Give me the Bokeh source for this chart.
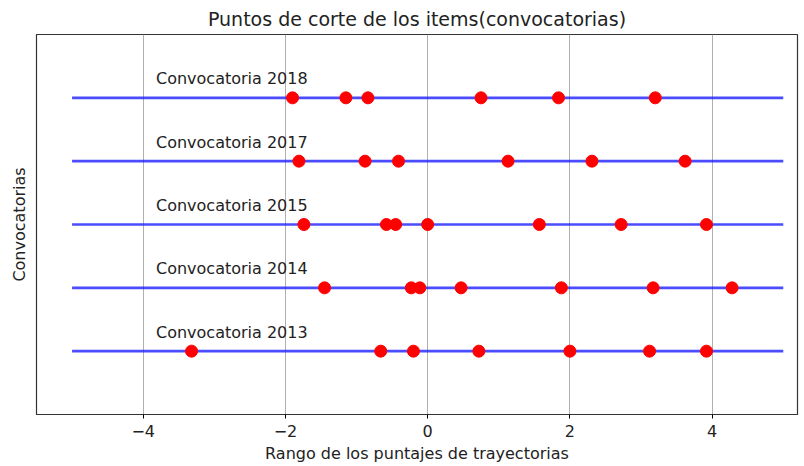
from bokeh.plotting import figure
from bokeh.models import FixedTicker, Range1d, ColumnDataSource
from bokeh.core.properties import value
from bokeh.embed import file_html
from bokeh.resources import INLINE

# ---- data ----
convocatorias = ["Convocatoria 2013", "Convocatoria 2014", "Convocatoria 2015",
                 "Convocatoria 2017", "Convocatoria 2018"]
puntos_2013 = [-3.32, -0.66, -0.20, 0.72, 2.00, 3.12, 3.92]
puntos_2014 = [-1.45, -0.23, -0.11, 0.47, 1.88, 3.17, 4.28]
puntos_2015 = [-1.74, -0.58, -0.45, 0.00, 1.57, 2.72, 3.92]
puntos_2017 = [-1.81, -0.88, -0.41, 1.13, 2.31, 3.62]
puntos_2018 = [-1.90, -1.15, -0.84, 0.75, 1.84, 3.20]
rango_min = -5
rango_max = 5
x_ticks = [-4, -2, 0, 2, 4]
x_tick_labels = ["\u22124", "\u22122", "0", "2", "4"]

series = [puntos_2013, puntos_2014, puntos_2015, puntos_2017, puntos_2018]
niveles = list(range(1, len(convocatorias) + 1))

FONT = "DejaVu Sans"

p = figure(width=800, height=466, output_backend="svg", toolbar_location=None,
           x_range=Range1d(-5.5, 5.2), y_range=Range1d(0, 6),
           min_border_left=36, min_border_right=3, min_border_top=34,
           min_border_bottom=52,
           title="Puntos de corte de los items(convocatorias)")

p.title.text_font = FONT
p.title.text_font_size = "19px"
p.title.text_font_style = "normal"
p.title.align = "center"
p.title.text_color = "#222222"

p.outline_line_color = "#333333"
p.outline_line_width = 1.2
p.outline_line_alpha = 1.0

# x axis
p.xaxis.ticker = FixedTicker(ticks=x_ticks)
p.xaxis.major_label_overrides = {t: l for t, l in zip(x_ticks, x_tick_labels)}
p.xaxis.axis_label = "Rango de los puntajes de trayectorias"
p.xaxis.axis_label_text_font = FONT
p.xaxis.axis_label_text_font_size = "16px"
p.xaxis.axis_label_text_font_style = "normal"
p.xaxis.axis_label_text_color = "#222222"
p.xaxis.major_label_text_font = FONT
p.xaxis.major_label_text_font_size = "16px"
p.xaxis.major_label_text_color = "#222222"
p.xaxis.major_label_standoff = 6
p.xaxis.axis_label_standoff = 4
p.xaxis.major_tick_out = 4
p.xaxis.major_tick_in = 0
p.xaxis.minor_tick_line_color = None
p.xaxis.axis_line_color = "#333333"

# y axis
p.yaxis.ticker = FixedTicker(ticks=[])
p.yaxis.axis_label = "Convocatorias"
p.yaxis.axis_label_text_font = FONT
p.yaxis.axis_label_text_font_size = "16px"
p.yaxis.axis_label_text_font_style = "normal"
p.yaxis.axis_label_text_color = "#222222"
p.yaxis.axis_label_standoff = 8
p.yaxis.minor_tick_line_color = None
p.yaxis.major_tick_line_color = None
p.yaxis.axis_line_color = "#333333"

p.xgrid.grid_line_color = "#b0b0b0"
p.xgrid.grid_line_width = 1
p.ygrid.grid_line_color = None

# horizontal lines
p.segment(x0=[rango_min] * len(niveles), x1=[rango_max] * len(niveles),
          y0=niveles, y1=niveles, line_color="#1f1fff", line_width=2.6,
          line_alpha=0.8)

# points
xs, ys = [], []
for nivel, pts in zip(niveles, series):
    xs.extend(pts)
    ys.extend([nivel] * len(pts))
p.scatter(x=xs, y=ys, size=12, fill_color="#ff0000", line_color="#ff0000")

# labels
lbl = ColumnDataSource(dict(x=[-3.82] * len(niveles),
                            y=[n + 0.3 for n in niveles],
                            t=convocatorias))
p.text(x="x", y="y", text="t", source=lbl, text_font=value(FONT),
       text_font_size="16px", text_baseline="middle", text_align="left",
       text_color="#222222")

open("out.html", "w").write(file_html(p, INLINE))
